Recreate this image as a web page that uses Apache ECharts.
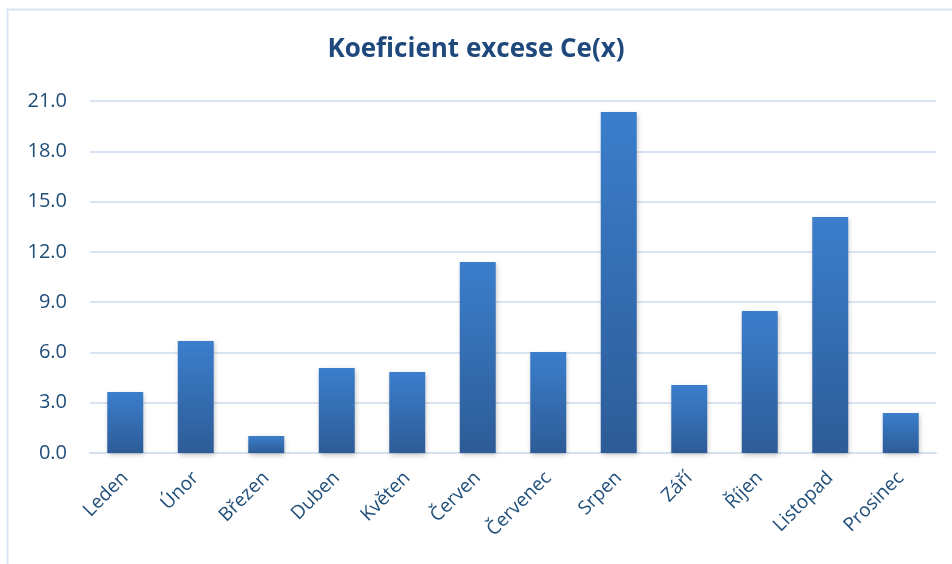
<!DOCTYPE html>
<html><head><meta charset="utf-8">
<style>html,body{margin:0;padding:0;background:#fff}#c{width:952px;height:564px}</style>
<script src="https://cdn.jsdelivr.net/npm/echarts@6/dist/echarts.min.js"></script>
</head><body><div id="c"></div>
<script>
const categories = ['Leden','Únor','Březen','Duben','Květen','Červen','Červenec','Srpen','Září','Říjen','Listopad','Prosinec'];
const values = [3.64, 6.68, 1.01, 5.07, 4.83, 11.4, 6.03, 20.35, 4.06, 8.47, 14.08, 2.39];
const yTicks = { min: 0, max: 21, interval: 3 };
const titleText = 'Koeficient excese Ce(x)';

const chart = echarts.init(document.getElementById('c'), null, {renderer:'canvas'});
const txt = '#1F4E79';
chart.setOption({
  animation: false,
  graphic: [{
    type: 'rect', shape: {x: 7.5, y: 9.5, width: 960, height: 570},
    style: {fill: 'none', stroke: '#DCE6F2', lineWidth: 2}, silent: true
  }],
  title: {
    text: titleText, left: 'center', top: 32,
    textStyle: {color: '#1F497D', fontFamily: 'Open Sans', fontWeight: 'bold', fontSize: 26}
  },
  grid: {left: 90, right: 16, top: 101, bottom: 111, containLabel: false},
  xAxis: {
    type: 'category', data: categories,
    axisLine: {show: true, lineStyle: {color: '#D6E1F0', width: 2}},
    axisTick: {show: false},
    axisLabel: {color: txt, fontFamily: 'Open Sans', fontSize: 19, rotate: 45, margin: 22, interval: 0}
  },
  yAxis: {
    type: 'value', min: yTicks.min, max: yTicks.max, interval: yTicks.interval,
    axisLine: {show: false}, axisTick: {show: false},
    splitLine: {lineStyle: {color: '#D9E4F2', width: 2}},
    axisLabel: {color: txt, fontFamily: 'Open Sans', fontSize: 20, margin: 23,
      formatter: v => v.toFixed(1)}
  },
  series: [{
    type: 'bar', data: values, barWidth: '51%',
    itemStyle: {
      color: new echarts.graphic.LinearGradient(0,0,0,1,[
        {offset: 0, color: '#3B7ECC'}, {offset: 1, color: '#2D5C97'}]),
      shadowColor: 'rgba(0,0,0,0.25)', shadowBlur: 5, shadowOffsetX: 1, shadowOffsetY: 2
    }
  }]
});
</script></body></html>
